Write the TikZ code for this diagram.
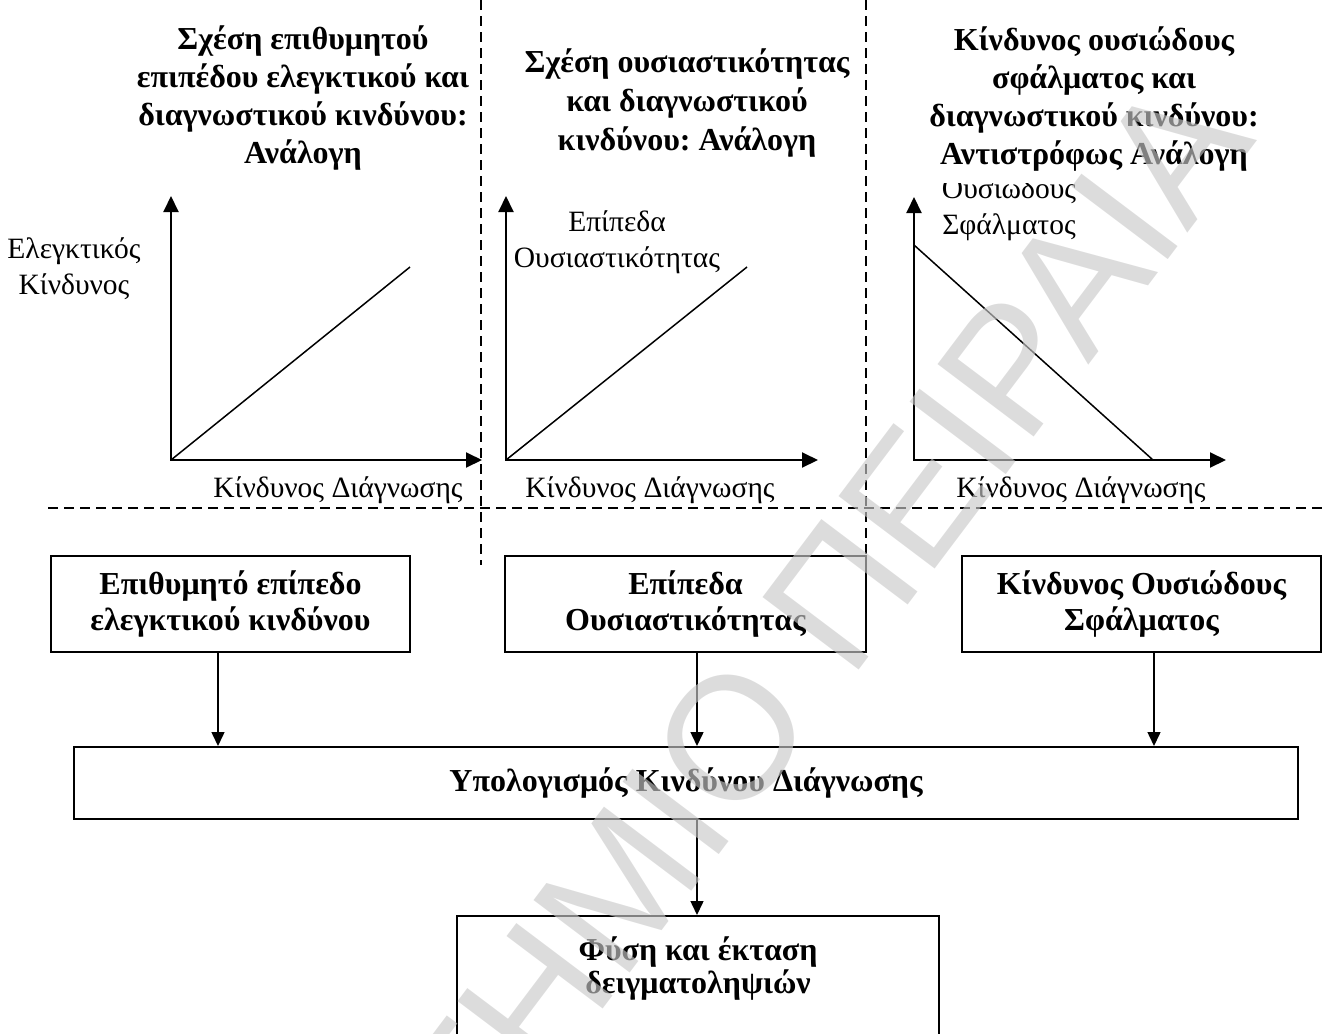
\documentclass[tikz,border=0pt]{standalone}
\usepackage{fontspec}
\setmainfont{Liberation Serif}
\newfontfamily\wmfont{Liberation Sans}
\usetikzlibrary{arrows.meta}
\frenchspacing

\begin{document}
\begin{tikzpicture}[x=1pt,y=-1pt,
  title/.style={font=\bfseries\fontsize{32}{38}\selectfont, align=center, inner sep=0pt, anchor=north},
  axislabel/.style={font=\fontsize{29.5}{36}\selectfont, align=center, inner sep=0pt},
  axis/.style={line width=2pt, {Triangle[length=16pt,width=15pt]}-{Triangle[length=16pt,width=15pt]}},
  trend/.style={line width=1.5pt},
  divider/.style={line width=2pt, dash pattern=on 10pt off 6pt},
  block/.style={draw, line width=2pt, font=\bfseries\fontsize{32}{36}\selectfont, align=center, inner sep=0pt},
  flow/.style={line width=1.5pt, -{Triangle[length=14pt,width=13pt]}},
  wm/.style={font=\wmfont\fontsize{175}{175}\selectfont, text=black!21, opacity=0.64, inner sep=0pt},
]
\useasboundingbox (0,0) rectangle (1326,1034);
\clip (0,0) rectangle (1326,1034);

% section dividers
\coordinate (d1t) at (481,0);
\coordinate (d1b) at (481,565);
\coordinate (d2t) at (866,0);
\coordinate (d2b) at (866,556);
\coordinate (hl) at (48,508);
\coordinate (hr) at (1326,508);
\draw[divider] (d1t) -- (d1b);
\draw[divider] (d2t) -- (d2b);
\draw[divider] (hl) -- (hr);

% titles
\node[title] (t1) at (303,26) {Σχέση επιθυμητού\\επιπέδου ελεγκτικού και\\διαγνωστικού κινδύνου:\\Ανάλογη};
\node[title, font=\bfseries\fontsize{32}{39}\selectfont] (t2) at (687,49) {Σχέση ουσιαστικότητας\\και διαγνωστικού\\κινδύνου: Ανάλογη};
\node[title] (t3) at (1094,27) {Κίνδυνος ουσιώδους\\σφάλματος και\\διαγνωστικού κινδύνου:\\Αντιστρόφως Ανάλογη};

% graph 1
\coordinate (o1) at (171,460);
\coordinate (y1) at (171,196);
\coordinate (x1) at (482,460);
\coordinate (e1) at (410,267);
\draw[axis] (y1) -- (o1) -- (x1);
\draw[trend] (o1) -- (e1);
\node[axislabel, anchor=north] (yl1) at (74,237) {Ελεγκτικός\\Κίνδυνος};
\node[axislabel, anchor=base] (xl1) at (338,497) {Κίνδυνος Διάγνωσης};

% graph 2
\coordinate (o2) at (506,460);
\coordinate (y2) at (506,196);
\coordinate (x2) at (818,460);
\coordinate (e2) at (747,267);
\draw[axis] (y2) -- (o2) -- (x2);
\draw[trend] (o2) -- (e2);
\node[axislabel, anchor=north] (yl2) at (617,210) {Επίπεδα\\Ουσιαστικότητας};
\node[axislabel, anchor=base] (xl2) at (650,497) {Κίνδυνος Διάγνωσης};

% graph 3
\coordinate (o3) at (914,460);
\coordinate (y3) at (914,197);
\coordinate (x3) at (1226,460);
\coordinate (s3) at (914,245);
\coordinate (e3) at (1153,460);
\draw[axis] (y3) -- (o3) -- (x3);
\draw[trend] (s3) -- (e3);
\begin{scope}
  \clip (880,183) rectangle (1140,260);
  \node[axislabel, anchor=north] (yl3) at (1009,177) {Ουσιώδους\\Σφάλματος};
\end{scope}
\node[axislabel, anchor=base] (xl3) at (1081,497) {Κίνδυνος Διάγνωσης};

% inputs
\node[block, minimum width=359pt, minimum height=96pt] (risk) at (230.5,604) {Επιθυμητό επίπεδο\\ελεγκτικού κινδύνου};
\node[block, minimum width=361pt, minimum height=96pt] (mat) at (685.5,604) {Επίπεδα\\Ουσιαστικότητας};
\node[block, minimum width=359pt, minimum height=96pt] (err) at (1141.5,604) {Κίνδυνος Ουσιώδους\\Σφάλματος};

% calculation and result
\node[block, minimum width=1224pt, minimum height=72pt] (calc) at (686,783) {Υπολογισμός Κινδύνου Διάγνωσης};
\node[block, minimum width=482pt, minimum height=220pt, anchor=north] (samp) at (698,915) {};
\node[font=\bfseries\fontsize{32}{33}\selectfont, align=center, inner sep=0pt, anchor=north] (samptext) at ([yshift=-22pt]samp.north) {Φύση και έκταση\\δειγματοληψιών};

\draw[flow] ([xshift=-12.5pt]risk.south) -- ([xshift=-12.5pt]risk.south |- calc.north);
\draw[flow] ([xshift=11.5pt]mat.south) -- ([xshift=11.5pt]mat.south |- calc.north);
\draw[flow] ([xshift=12.5pt]err.south) -- ([xshift=12.5pt]err.south |- calc.north);
\draw[flow] ([xshift=11pt]calc.south) -- ([xshift=11pt]calc.south |- samp.north);

% watermark
\node[wm, rotate=53, anchor=base east] (watermark) at (1258,140) {ΠΑΝΕΠΙΣΤΗΜΙΟ ΠΕΙΡΑΙΑ};
\end{tikzpicture}
\end{document}
